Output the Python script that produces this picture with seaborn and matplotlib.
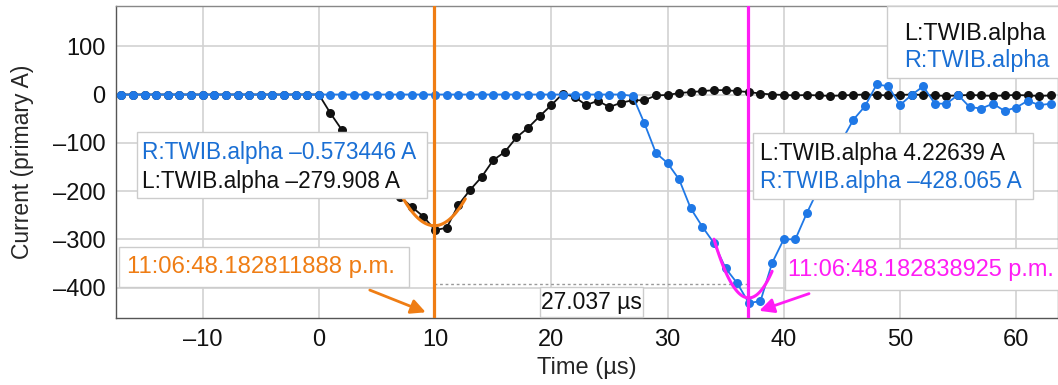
import numpy as np
import matplotlib.pyplot as plt
import matplotlib.patches as mpatches
from matplotlib.ticker import FuncFormatter, MultipleLocator
import pandas as pd
import seaborn as sns

# Sample times in microseconds
time_us = list(range(-17, 64))

# L:TWIB.alpha (black trace)
left_amp = [0, 0, 0, 0, 0, 0, 0, 0, 0, 0, 0, 0, 0, 0, 0, 0, 0,
            0, -39, -74, -103, -132, -160, -187, -212, -233, -253,
            -281, -276, -229, -198, -171, -136, -119, -89, -69, -45,
            -22, 2, -5, -22, -13, -26, -17, -12, -12, -2,
            -1, 3, 5, 7, 9, 9, 7, 5, 2, 0,
            -1, -2, -1, -2, -3, -2, -1, 0, -1, -2,
            -1, 0, -1, -2, -3, -2, -1, -2, -3, -2,
            -1, -2, -3, -2]

# R:TWIB.alpha (blue trace)
right_amp = [0, 0, 0, 0, 0, 0, 0, 0, 0, 0, 0, 0, 0, 0, 0, 0, 0,
             0, 0, 0, 0, 0, 0, 0, 0, 0, 0,
             0, 0, 0, 0, 0, 0, 0, 0, 0, 0,
             0, 0, 0, 0, 0, 0, 0, -3, -59, -121,
             -142, -176, -236, -274, -308, -360, -391, -432, -428, -349,
             -300, -300, -245, -195, -145, -95, -52, -24, 21, 17,
             -22, -1, 17, -19, -19, -1, -26, -29, -19, -34,
             -27, -13, -22, -19]

# cursor positions (µs) and their readouts
cursor_a = 9.88
cursor_b = 36.917
delta_level = -393
cursor_a_label = "11:06:48.182811888 p.m."
cursor_b_label = "11:06:48.182838925 p.m."
delta_label = "27.037 µs"
readout_a = ["R:TWIB.alpha \u20130.573446 A", "L:TWIB.alpha \u2013279.908 A"]
readout_b = ["L:TWIB.alpha 4.22639 A", "R:TWIB.alpha \u2013428.065 A"]
legend_names = ["L:TWIB.alpha", "R:TWIB.alpha"]

BLACK = "#111111"
BLUE = "#1f78e6"
BLUE_TXT = "#1a6fd4"
ORANGE = "#ef7d14"
MAGENTA = "#ff1cf5"

df = pd.DataFrame({"t": time_us, "L": left_amp, "R": right_amp})

sns.set_style("white")
plt.rcParams["font.family"] = ["Liberation Sans", "DejaVu Sans"]
plt.rcParams["font.size"] = 16

fig = plt.figure(figsize=(10.58, 3.85), dpi=100)
ax = fig.add_axes([0.1096, 0.174, 0.8904, 0.810])

sns.lineplot(data=df, x="t", y="L", ax=ax, color=BLACK, marker="o",
             markersize=6.5, markeredgewidth=0, linewidth=1.3,
             estimator=None, legend=False, zorder=3)
sns.lineplot(data=df, x="t", y="R", ax=ax, color=BLUE, marker="o",
             markersize=6.5, markeredgewidth=0, linewidth=1.3,
             estimator=None, legend=False, zorder=3)

# peak fits around the cursors
t_arr = np.array(time_us)
win_a = (t_arr >= 7) & (t_arr <= 12)
pa = np.polyfit(t_arr[win_a], np.array(left_amp)[win_a], 2)
xa = np.linspace(7.2, 12.6, 60)
ax.plot(xa, np.polyval(pa, xa), color=ORANGE, lw=2.2, zorder=4)
win_b = (t_arr >= 34) & (t_arr <= 40)
pb = np.polyfit(t_arr[win_b], np.array(right_amp)[win_b], 2)
xb = np.linspace(34.0, 39.0, 60)
ax.plot(xb, np.polyval(pb, xb), color=MAGENTA, lw=2.2, zorder=4)

# cursors
ax.axvline(cursor_a, color=ORANGE, lw=2.3, zorder=5)
ax.axvline(cursor_b, color=MAGENTA, lw=2.3, zorder=5)
ax.plot([cursor_a, cursor_b], [delta_level, delta_level], color="#999999",
        lw=1, ls=(0, (2, 2)), zorder=2)

ax.set_xlim(-17.46, 63.6)
ax.set_ylim(-463, 183)
ax.xaxis.set_major_locator(MultipleLocator(10))
ax.yaxis.set_major_locator(MultipleLocator(100))
dash = FuncFormatter(lambda v, p: f"{v:.0f}".replace("-", "\u2013"))
ax.xaxis.set_major_formatter(dash)
ax.yaxis.set_major_formatter(dash)
ax.tick_params(axis="both", length=0, labelsize=17, colors="#111111")
ax.tick_params(axis="x", pad=8)
ax.tick_params(axis="y", pad=7.5)
ax.grid(True, color="#d2d2d2", lw=1.2, zorder=0)
ax.set_axisbelow(True)
for s in ax.spines.values():
    s.set_color("#888888")
    s.set_linewidth(1)
ax.spines["left"].set_color("#555555")
ax.spines["bottom"].set_color("#555555")

ax.set_xlabel("Time (µs)", fontsize=17, va="top")
ax.xaxis.set_label_coords(0.5, -0.125)
ax.set_ylabel("Current (primary A)", fontsize=16.5)
ax.yaxis.set_label_coords(-0.087, 0.5)


def box(x0, y0, x1, y1):
    r = mpatches.Rectangle((x0, y0), x1 - x0, y1 - y0, transform=ax.transAxes,
                           facecolor="white", edgecolor="#cccccc", lw=1,
                           zorder=6, clip_on=False)
    ax.add_patch(r)


def txt(x, y, s, c, size=16.3, ha="left"):
    ax.text(x, y, s, color=c, fontsize=size, ha=ha, va="center",
            transform=ax.transAxes, zorder=7, clip_on=False)


# readout at cursor A
box(0.0220, 0.3837, 0.3299, 0.5971)
txt(0.0276, 0.532, readout_a[0], BLUE_TXT)
txt(0.0276, 0.439, readout_a[1], BLACK)

# readout at cursor B
box(0.6766, 0.3814, 0.9732, 0.5920)
txt(0.6837, 0.528, readout_b[0], BLACK)
txt(0.6837, 0.437, readout_b[1], BLUE_TXT)

# legend
box(0.818, 0.770, 1.01, 1.0)
txt(0.8365, 0.912, legend_names[0], BLACK, size=16.8)
txt(0.8365, 0.827, legend_names[1], BLUE_TXT, size=16.8)

# time stamps
box(0.0032, 0.0994, 0.3110, 0.2276)
txt(0.0117, 0.1635, cursor_a_label, ORANGE, size=17.2)
box(0.710, 0.0897, 1.02, 0.2234)
txt(0.7135, 0.1565, cursor_b_label, MAGENTA, size=16.9)

# delta
box(0.450, 0.0042, 0.5598, 0.0984)
txt(0.505, 0.0513, delta_label, BLACK, size=16.5, ha="center")

ax.annotate("", xy=(0.3316, 0.015), xytext=(0.2667, 0.0929),
            xycoords="axes fraction",
            arrowprops=dict(arrowstyle="-|>", color=ORANGE, lw=2,
                            mutation_scale=22), zorder=8)
ax.annotate("", xy=(0.6801, 0.0202), xytext=(0.7385, 0.0811),
            xycoords="axes fraction",
            arrowprops=dict(arrowstyle="-|>", color=MAGENTA, lw=2,
                            mutation_scale=22), zorder=8)

fig.savefig("out.png", dpi=100)
